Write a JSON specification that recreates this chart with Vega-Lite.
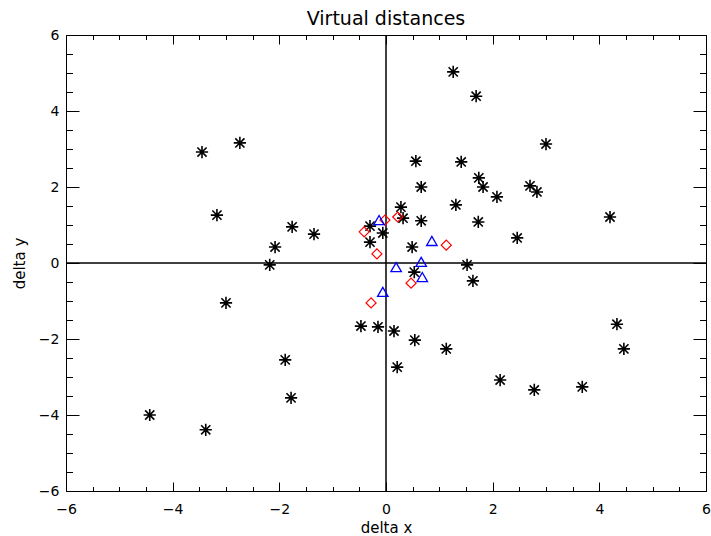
{
  "$schema": "https://vega.github.io/schema/vega-lite/v6.json",
  "width": 640,
  "height": 456,
  "autosize": {"type": "none"},
  "padding": {"left": 66, "top": 35, "right": 5, "bottom": 45},
  "background": "white",
  "title": {"text": "Virtual distances", "font": "DejaVu Sans", "fontSize": 19, "fontWeight": "normal", "color": "black", "offset": -1, "anchor": "middle"},
  "config": {
    "view": {"stroke": "black", "strokeWidth": 1},
    "axis": {"grid": false, "domain": false, "labelFont": "DejaVu Sans", "titleFont": "DejaVu Sans", "labelColor": "black", "titleColor": "black", "tickColor": "black", "tickWidth": 1, "labelFontSize": 14, "titleFontSize": 15, "titleFontWeight": "normal", "labelFlush": false, "labelOverlap": false}
  },
  "datasets": {
    "points": [
      {"type": "A", "dx": 1.26, "dy": 5.03},
      {"type": "A", "dx": 1.69, "dy": 4.39},
      {"type": "A", "dx": 3.00, "dy": 3.13},
      {"type": "A", "dx": -2.74, "dy": 3.16},
      {"type": "A", "dx": -3.45, "dy": 2.92},
      {"type": "A", "dx": 0.56, "dy": 2.68},
      {"type": "A", "dx": 1.41, "dy": 2.66},
      {"type": "A", "dx": 1.74, "dy": 2.24},
      {"type": "A", "dx": 1.82, "dy": 2.00},
      {"type": "A", "dx": 0.66, "dy": 2.00},
      {"type": "A", "dx": 2.08, "dy": 1.74},
      {"type": "A", "dx": 2.70, "dy": 2.03},
      {"type": "A", "dx": 2.83, "dy": 1.87},
      {"type": "A", "dx": 1.31, "dy": 1.53},
      {"type": "A", "dx": 0.28, "dy": 1.47},
      {"type": "A", "dx": 0.32, "dy": 1.18},
      {"type": "A", "dx": 0.66, "dy": 1.11},
      {"type": "A", "dx": 1.73, "dy": 1.08},
      {"type": "A", "dx": 4.20, "dy": 1.21},
      {"type": "A", "dx": 2.46, "dy": 0.66},
      {"type": "A", "dx": 0.49, "dy": 0.42},
      {"type": "A", "dx": -0.06, "dy": 0.79},
      {"type": "A", "dx": -0.30, "dy": 0.97},
      {"type": "A", "dx": -0.30, "dy": 0.55},
      {"type": "A", "dx": -3.17, "dy": 1.26},
      {"type": "A", "dx": -1.76, "dy": 0.95},
      {"type": "A", "dx": -1.35, "dy": 0.76},
      {"type": "A", "dx": -2.08, "dy": 0.42},
      {"type": "A", "dx": -2.18, "dy": -0.05},
      {"type": "A", "dx": 1.52, "dy": -0.05},
      {"type": "A", "dx": 1.63, "dy": -0.47},
      {"type": "A", "dx": 0.53, "dy": -0.24},
      {"type": "A", "dx": -3.00, "dy": -1.05},
      {"type": "A", "dx": -0.47, "dy": -1.66},
      {"type": "A", "dx": -0.15, "dy": -1.68},
      {"type": "A", "dx": 0.15, "dy": -1.79},
      {"type": "A", "dx": 0.54, "dy": -2.03},
      {"type": "A", "dx": 0.21, "dy": -2.74},
      {"type": "A", "dx": -1.89, "dy": -2.55},
      {"type": "A", "dx": -1.78, "dy": -3.55},
      {"type": "A", "dx": -4.43, "dy": -4.00},
      {"type": "A", "dx": -3.38, "dy": -4.39},
      {"type": "A", "dx": 4.33, "dy": -1.61},
      {"type": "A", "dx": 4.46, "dy": -2.26},
      {"type": "A", "dx": 1.13, "dy": -2.26},
      {"type": "A", "dx": 2.14, "dy": -3.08},
      {"type": "A", "dx": 2.78, "dy": -3.34},
      {"type": "A", "dx": 3.68, "dy": -3.26},
      {"type": "D", "dx": -0.02, "dy": 1.13},
      {"type": "D", "dx": 0.22, "dy": 1.21},
      {"type": "D", "dx": -0.41, "dy": 0.82},
      {"type": "D", "dx": -0.17, "dy": 0.24},
      {"type": "D", "dx": 1.13, "dy": 0.47},
      {"type": "D", "dx": 0.47, "dy": -0.53},
      {"type": "D", "dx": -0.28, "dy": -1.05},
      {"type": "T", "dx": -0.13, "dy": 1.13},
      {"type": "T", "dx": 0.86, "dy": 0.58},
      {"type": "T", "dx": 0.19, "dy": -0.11},
      {"type": "T", "dx": 0.66, "dy": 0.03},
      {"type": "T", "dx": 0.68, "dy": -0.37},
      {"type": "T", "dx": -0.06, "dy": -0.76}
    ],
    "zero": [{"v": 0}]
  },
  "layer": [
    {
      "data": {"name": "zero"},
      "mark": {"type": "rule", "color": "black", "strokeWidth": 1.5},
      "encoding": {
        "x": {"field": "v", "type": "quantitative", "scale": {"domain": [-6, 6], "nice": false, "zero": false},
          "axis": {"orient": "top", "values": [-5.5, -5, -4.5, -3.5, -3, -2.5, -1.5, -1, -0.5, 0.5, 1, 1.5, 2.5, 3, 3.5, 4.5, 5, 5.5], "tickSize": -4.5, "labels": false, "title": null}}
      }
    },
    {
      "data": {"name": "zero"},
      "mark": {"type": "rule", "color": "black", "strokeWidth": 1.5},
      "encoding": {
        "y": {"field": "v", "type": "quantitative", "scale": {"domain": [-6, 6], "nice": false, "zero": false},
          "axis": {"orient": "right", "values": [-5.5, -5, -4.5, -3.5, -3, -2.5, -1.5, -1, -0.5, 0.5, 1, 1.5, 2.5, 3, 3.5, 4.5, 5, 5.5], "tickSize": -6.5, "labels": false, "title": null}}
      }
    },
    {
      "data": {"name": "points"},
      "transform": [{"filter": "datum.type === 'A'"}],
      "mark": {"type": "point", "shape": "M-1,0L1,0M0,-1L0,1M-0.75,-0.75L0.75,0.75M-0.75,0.75L0.75,-0.75", "filled": false, "stroke": "black", "strokeWidth": 1.6, "size": 150, "opacity": 1},
      "encoding": {
        "x": {"field": "dx", "type": "quantitative", "scale": {"domain": [-6, 6], "nice": false, "zero": false},
          "axis": {"orient": "bottom", "values": [-6, -4, -2, 0, 2, 4, 6], "format": "d", "tickSize": -9, "labelPadding": 20, "title": "delta x", "titlePadding": 4}},
        "y": {"field": "dy", "type": "quantitative", "scale": {"domain": [-6, 6], "nice": false, "zero": false},
          "axis": {"orient": "left", "values": [-6, -4, -2, 0, 2, 4, 6], "format": "d", "tickSize": -13, "labelPadding": 20, "title": "delta y", "titlePadding": 11}}
      }
    },
    {
      "data": {"name": "points"},
      "transform": [{"filter": "datum.type === 'D'"}],
      "mark": {"type": "point", "shape": "diamond", "filled": false, "stroke": "#ff0000", "strokeWidth": 1.2, "size": 100, "opacity": 1},
      "encoding": {
        "x": {"field": "dx", "type": "quantitative", "scale": {"domain": [-6, 6], "nice": false, "zero": false},
          "axis": {"orient": "top", "values": [-6, -4, -2, 0, 2, 4, 6], "tickSize": -9, "labels": false, "title": null}},
        "y": {"field": "dy", "type": "quantitative", "scale": {"domain": [-6, 6], "nice": false, "zero": false},
          "axis": {"orient": "right", "values": [-6, -4, -2, 0, 2, 4, 6], "tickSize": -13, "labels": false, "title": null}}
      }
    },
    {
      "data": {"name": "points"},
      "transform": [{"filter": "datum.type === 'T'"}],
      "mark": {"type": "point", "shape": "triangle-up", "filled": false, "stroke": "#0000ff", "strokeWidth": 1.3, "size": 110, "opacity": 1},
      "encoding": {
        "x": {"field": "dx", "type": "quantitative", "scale": {"domain": [-6, 6], "nice": false, "zero": false},
          "axis": {"orient": "bottom", "values": [-5.5, -5, -4.5, -3.5, -3, -2.5, -1.5, -1, -0.5, 0.5, 1, 1.5, 2.5, 3, 3.5, 4.5, 5, 5.5], "tickSize": -4.5, "labels": false, "title": null}},
        "y": {"field": "dy", "type": "quantitative", "scale": {"domain": [-6, 6], "nice": false, "zero": false},
          "axis": {"orient": "left", "values": [-5.5, -5, -4.5, -3.5, -3, -2.5, -1.5, -1, -0.5, 0.5, 1, 1.5, 2.5, 3, 3.5, 4.5, 5, 5.5], "tickSize": -6.5, "labels": false, "title": null}}
      }
    }
  ],
  "resolve": {"axis": {"x": "independent", "y": "independent"}}
}
